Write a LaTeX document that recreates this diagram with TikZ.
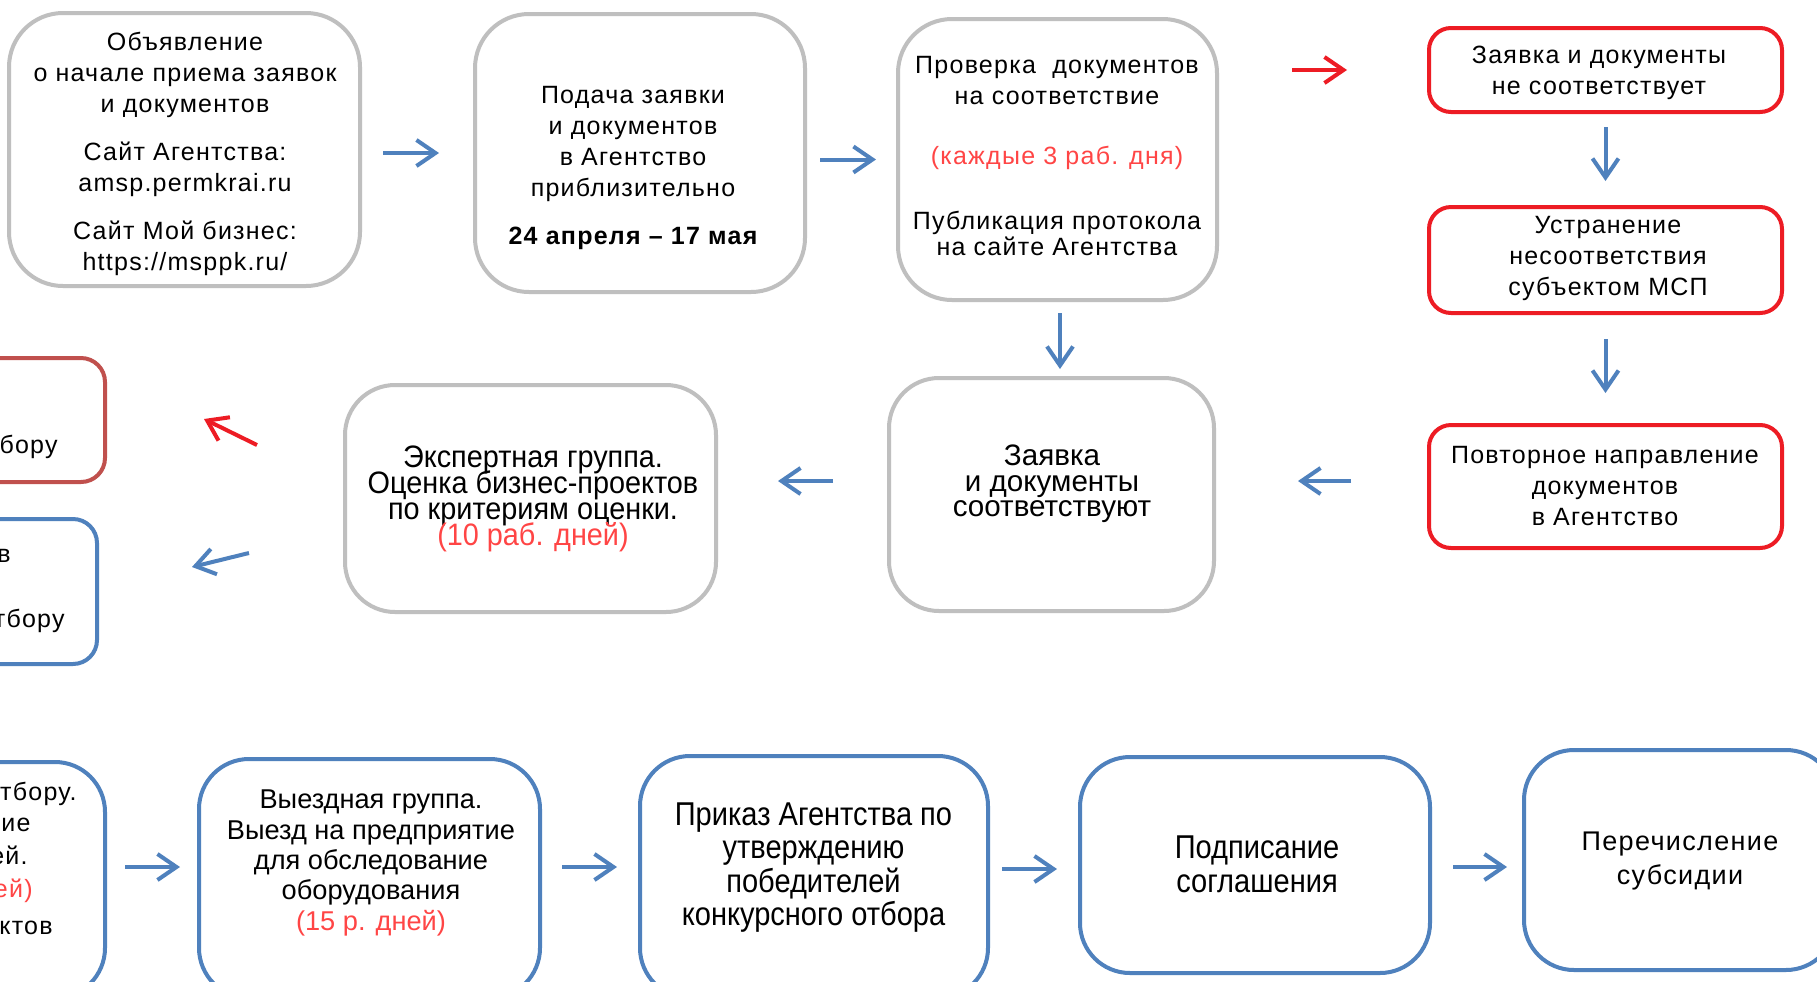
\documentclass[tikz,border=0pt]{standalone}
\usepackage{fontspec}
\setmainfont{Liberation Sans}
\newfontfamily\spf[LetterSpace=5]{Liberation Sans}
\newfontfamily\narf[FakeStretch=0.93]{Liberation Sans}
\newfontfamily\narg[FakeStretch=0.88]{Liberation Sans}
\newcommand\tightlines{\lineskiplimit=-20pt\relax\lineskip=0pt\relax}
\usetikzlibrary{arrows.meta}
\definecolor{gline}{HTML}{BFBFBF}
\definecolor{rline}{HTML}{ED1C24}
\definecolor{bline}{HTML}{4F81BD}
\definecolor{mline}{HTML}{C0504D}
\definecolor{rtext}{HTML}{FF4545}
\tikzset{
  boxbase/.style={rectangle, line width=2pt, inner sep=0pt, fill=white},
  graybox/.style={boxbase, draw=gline, rounded corners=27pt},
  redbox/.style={boxbase, draw=rline, rounded corners=11pt},
  bluebox/.style={boxbase, draw=bline, rounded corners=25pt},
  sidebox/.style={boxbase, rounded corners=12pt},
  sptext/.style={align=center, inner sep=0pt, font=\spf\fontsize{12.5}{15.5}\selectfont},
  plaintext/.style={align=center, inner sep=0pt, font=\fontsize{14.8}{12.75}\selectfont\tightlines},
  nartext/.style={align=center, inner sep=0pt, font=\narf\fontsize{15.5}{13.1}\selectfont\tightlines},
  bottext/.style={align=center, inner sep=0pt, font=\fontsize{13.6}{15.2}\selectfont},
  bignar/.style={align=center, inner sep=0pt, font=\narg\fontsize{16.5}{16.8}\selectfont},
  frag/.style={anchor=mid east, inner sep=0pt, font=\spf\fontsize{12.5}{15.5}\selectfont},
  arr/.style={line width=2pt, draw=bline, -{Straight Barb[length=9.5pt,width=13pt]}},
  rarr/.style={arr, draw=rline},
}
\begin{document}
\begin{tikzpicture}[x=0.5pt,y=-0.5pt]
\useasboundingbox (0,0) rectangle (1817,981);
\clip (0,0) rectangle (1817,981);
\fill[white] (0,0) rectangle (1817,981);

% top row
\node[graybox, minimum width=175.5pt, minimum height=136.5pt] (b1) at (184.5,149.5) {};
\node[sptext] (t1) at (185,154) {Объявление\\о начале приема заявок\\и документов\\[8.5pt]Сайт Агентства:\\amsp.permkrai.ru\\[8.5pt]Сайт Мой бизнес:\\https://msppk.ru/};

\node[graybox, minimum width=165pt, minimum height=139pt] (b2) at (640,153) {};
\node[sptext] (t2) at (633,168) {Подача заявки\\и документов\\в Агентство\\приблизительно\\[8.5pt]{\bfseries 24 апреля – 17 мая}};

\node[graybox, minimum width=159.5pt, minimum height=140.5pt] (b3) at (1057.5,159.5) {};
\node[sptext] (t3) at (1057,156) {Проверка\ \ документов\\на соответствие\\[14.5pt]\textcolor{rtext}{(каждые 3 раб. дня)}\\[17pt]Публикация протокола\\[-2.5pt]на сайте Агентства};

% right column
\node[redbox, minimum width=176.5pt, minimum height=42pt] (r1) at (1605.5,70) {};
\node[sptext] (tr1) at (1599,73) {Заявка и документы\\не соответствует};

\node[redbox, minimum width=176.5pt, minimum height=53pt] (r2) at (1605.5,260) {};
\node[sptext] (tr2) at (1608,258) {Устранение\\несоответствия\\субъектом МСП};

\node[redbox, minimum width=176.5pt, minimum height=61.5pt] (r3) at (1605.5,486.5) {};
\node[sptext] (tr3) at (1605,486) {Повторное направление\\документов\\в Агентство};

% middle row
\node[graybox, rounded corners=25pt, minimum width=162.5pt, minimum height=116.5pt] (ok) at (1051.5,494.5) {};
\node[plaintext] (tok) at (1052,484) {Заявка\\и документы\\соответствуют};

\node[graybox, rounded corners=25pt, minimum width=185.5pt, minimum height=113.5pt] (exp) at (530.5,498.5) {};
\node[nartext] (texp) at (533,499) {Экспертная группа.\\Оценка бизнес-проектов\\по критериям оценки.\\\textcolor{rtext}{(10 раб. дней)}};

\node[sidebox, draw=mline, minimum width=177.5pt, minimum height=62pt] (lred) at (-72.5,420) {};
\node[frag] (flred) at (58,448) {бору};

\node[sidebox, draw=bline, minimum width=173.5pt, minimum height=72.5pt] (lblue) at (-76.5,591.5) {};
\node[frag] (flb1) at (11,557) {в};
\node[frag] (flb2) at (65,622) {тбору};

% bottom row
\node[bluebox, minimum width=177.5pt, minimum height=118pt] (lbot) at (-72.5,880) {};
\node[frag] (fb1) at (77,795) {тбору.};
\node[frag] (fb2) at (31,826) {ие};
\node[frag] (fb3) at (28,859) {ей.};
\node[frag, text=rtext] (fb4) at (33,892) {ей)};
\node[frag] (fb5) at (53,929) {ктов};

\node[bluebox, minimum width=170.5pt, minimum height=119.5pt] (vy) at (369.5,878.5) {};
\node[bottext] (tvy) at (371,863) {Выездная группа.\\Выезд на предприятие\\для обследование\\оборудования\\\textcolor{rtext}{(15 р. дней)}};

\node[bluebox, minimum width=174pt, minimum height=121pt] (pr) at (814,877) {};
\node[bignar] (tpr) at (813.5,867.5) {Приказ Агентства по\\утверждению\\победителей\\конкурсного отбора};

\node[bluebox, minimum width=175pt, minimum height=108pt] (pd) at (1255,865) {};
\node[bignar] (tpd) at (1257,864) {Подписание\\соглашения};

\node[bluebox, minimum width=156pt, minimum height=110pt] (pe) at (1680,860) {};
\node[sptext, font=\spf\fontsize{13.5}{17}\selectfont] (tpe) at (1680,861) {Перечисление\\субсидии};

% connectors
\draw[arr, shorten <=10.5pt, shorten >=17pt] (b1.east |- b2.west) -- (b2.west);
\draw[arr, shorten <=6.5pt, shorten >=10pt] (b2.east |- b3.west) -- (b3.west);
\draw[rarr, shorten <=36.5pt, shorten >=40pt] (b3.east |- r1.west) -- (r1.west);
\draw[arr, shorten <=6.5pt, shorten >=12pt] (r1.south) -- (r2.north);
\draw[arr, shorten <=12pt, shorten >=15pt] (r2.south) -- (r3.north);
\draw[arr, shorten <=38pt, shorten >=41pt] ([yshift=2.75pt]r3.west) -- ([yshift=2.75pt]r3.west -| ok.east);
\draw[arr, shorten <=5.5pt, shorten >=3.5pt] ([xshift=1.25pt]b3.south) -- ([xshift=1.25pt]b3.south |- ok.north);
\draw[arr, shorten <=27pt, shorten >=30pt] ([yshift=6.75pt]ok.west) -- ([yshift=6.75pt]ok.west -| exp.east);
\coordinate (dr1) at (257,445);
\coordinate (dr2) at (204,419);
\draw[rarr] (dr1) -- (dr2);
\coordinate (db1) at (249,553);
\coordinate (db2) at (192,567);
\draw[arr] (db1) -- (db2);
\draw[arr, shorten <=9pt, shorten >=8.5pt] ([yshift=6.5pt]lbot.east) -- ([yshift=6.5pt]lbot.east -| vy.west);
\draw[arr, shorten <=10pt, shorten >=10.5pt] ([yshift=5.75pt]vy.east) -- ([yshift=5.75pt]vy.east -| pr.west);
\draw[arr, shorten <=6pt, shorten >=10.5pt] ([yshift=4pt]pr.east) -- ([yshift=4pt]pr.east -| pd.west);
\draw[arr, shorten <=10.5pt, shorten >=7.5pt] ([yshift=-1pt]pd.east) -- ([yshift=-1pt]pd.east -| pe.west);
\end{tikzpicture}
\end{document}
